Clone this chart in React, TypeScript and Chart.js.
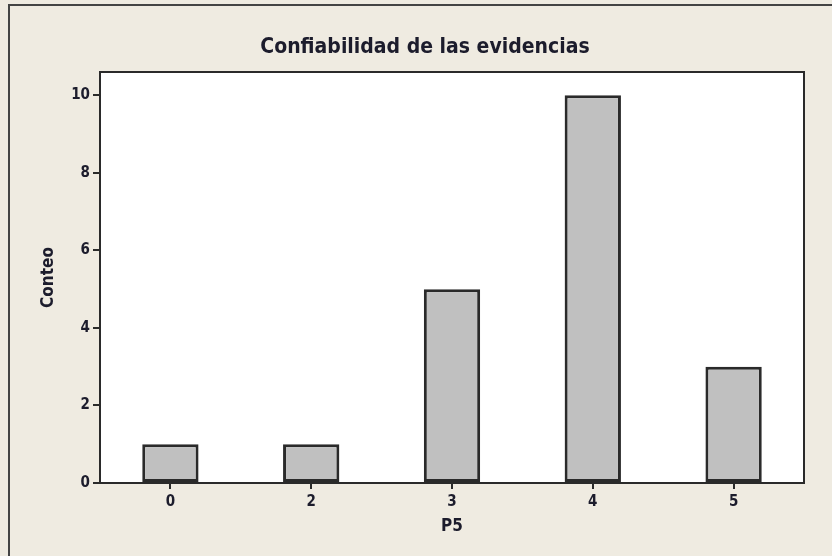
import React, { useEffect, useRef } from "react";
import { Chart, registerables } from "chart.js";

Chart.register(...registerables);

const categories = ["0", "2", "3", "4", "5"];
const counts = [1, 1, 5, 10, 3];
const yTicks = [0, 2, 4, 6, 8, 10];
const chartTitle = "Confiabilidad de las evidencias";
const xTitle = "P5";
const yTitle = "Conteo";

const BG = "#EFEBE1";
const INK = "#1c1c2c";
const LINE = "#2a2a2a";

const framePlugin = {
  id: "frame",
  beforeDraw(chart: any) {
    const { ctx, width, height, chartArea } = chart;
    ctx.save();
    ctx.fillStyle = BG;
    ctx.fillRect(0, 0, width, height);
    ctx.strokeStyle = "#444444";
    ctx.lineWidth = 2;
    ctx.beginPath();
    ctx.moveTo(9, height + 5);
    ctx.lineTo(9, 5);
    ctx.lineTo(width + 5, 5);
    ctx.stroke();
    ctx.fillStyle = "#ffffff";
    ctx.fillRect(chartArea.left, chartArea.top, chartArea.right - chartArea.left, chartArea.bottom - chartArea.top);
    ctx.restore();
  },
  afterDraw(chart: any) {
    const { ctx, chartArea } = chart;
    ctx.save();
    ctx.strokeStyle = LINE;
    ctx.lineWidth = 2;
    ctx.strokeRect(chartArea.left, chartArea.top, chartArea.right - chartArea.left, chartArea.bottom - chartArea.top);
    ctx.fillStyle = INK;
    ctx.font = "bold 21px 'Liberation Sans Narrow', 'DejaVu Sans Condensed', sans-serif";
    ctx.textAlign = "center";
    ctx.textBaseline = "alphabetic";
    ctx.fillText(chartTitle, 425, 53);
    ctx.restore();
  },
};

export default function App() {
  const ref = useRef<HTMLCanvasElement | null>(null);
  useEffect(() => {
    document.body.style.margin = "0";
    const canvas = ref.current;
    if (!canvas) return;
    const tickFont = { family: "'DejaVu Sans Condensed', 'DejaVu Sans', sans-serif", size: 15, weight: "bold" as const };
    const titleFont = { family: "'DejaVu Sans Condensed', 'DejaVu Sans', sans-serif", size: 17, weight: "bold" as const };
    const chart = new Chart(canvas, {
      type: "bar",
      data: {
        labels: categories,
        datasets: [
          {
            data: counts,
            backgroundColor: "#C0C0C0",
            borderColor: LINE,
            borderWidth: 3,
            borderSkipped: false,
            barPercentage: 0.4,
            categoryPercentage: 1,
          },
        ],
      },
      options: {
        animation: false,
        responsive: false,
        maintainAspectRatio: false,
        layout: { padding: { left: 0, right: 28, top: 72, bottom: 0 } },
        plugins: {
          legend: { display: false },
          tooltip: { enabled: false },
          title: { display: false, text: chartTitle },
        },
        scales: {
          x: {
            offset: true,
            border: { display: false },
            grid: { offset: false, drawOnChartArea: false, drawTicks: true, tickLength: 6, color: LINE, lineWidth: 2 },
            ticks: { color: INK, font: tickFont, padding: 4, maxRotation: 0 },
            title: {
              display: true,
              text: xTitle,
              color: INK,
              font: titleFont,
              padding: { top: 0, bottom: 19 },
            },
            afterFit: (scale: any) => {
              scale.height = 73;
            },
          },
          y: {
            min: 0,
            max: 10.6,
            border: { display: false },
            grid: { drawOnChartArea: false, drawTicks: true, tickLength: 7, color: LINE, lineWidth: 2 },
            ticks: { color: INK, font: tickFont, padding: 3, stepSize: 2 },
            afterBuildTicks: (scale: any) => {
              scale.ticks = yTicks.map((v) => ({ value: v }));
            },
            title: {
              display: true,
              text: yTitle,
              color: INK,
              font: titleFont,
              padding: { top: 38, bottom: 0 },
            },
            afterFit: (scale: any) => {
              scale.width = 100;
            },
          },
        },
      },
      plugins: [framePlugin],
    });
    return () => chart.destroy();
  }, []);
  return (
    <div style={{ position: "absolute", left: 0, top: 0, width: 832, height: 556 }}>
      <canvas ref={ref} width={832} height={556} style={{ display: "block", width: 832, height: 556 }} />
    </div>
  );
}
